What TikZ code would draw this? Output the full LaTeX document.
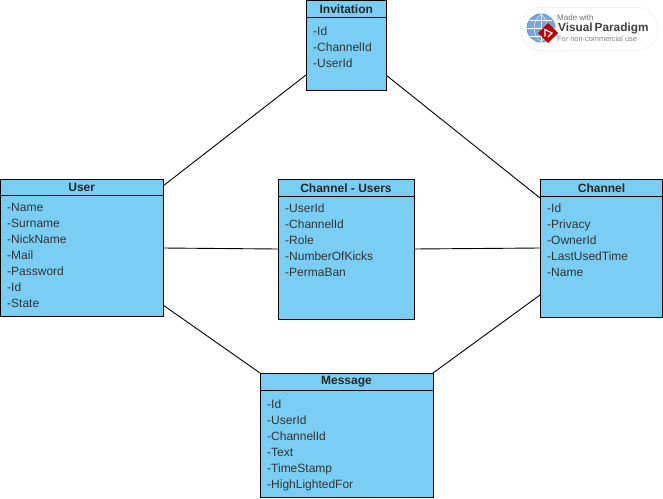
\documentclass[tikz,border=0pt]{standalone}
\usepackage{fontspec}
\setmainfont{Liberation Sans}
\tikzset{
 x=1pt,y=-1pt,
 classbox/.style={draw=black,line width=0.9pt,fill=boxblue,inner sep=0pt,outer sep=0pt,anchor=north west},
 classtitle/.style={font=\fontsize{12}{14}\selectfont\bfseries,text=black!85,inner sep=0pt,anchor=center},
 attrs/.style={font=\fontsize{12}{16}\selectfont,text=black!80,inner sep=0pt,anchor=north west,align=left},
 link/.style={draw=black,line width=0.9pt},
 divider/.style={draw=black,line width=0.9pt},
}
\definecolor{boxblue}{HTML}{7ACEF4}
\newcommand{\classrect}[7]{% name, x1,y1,x2,y2, header y, title
 \node[classbox,minimum width=#4-#2,minimum height=#5-#3] (#1) at (#2,#3) {};
 \draw[divider] (#2,#6) -- (#4,#6);
 \node[classtitle] (#1title) at ({(#2+#4)/2},{(#3+#6)/2+0.4}) {#7};
}
\begin{document}
\begin{tikzpicture}
\useasboundingbox (0,0) rectangle (663,498);
\fill[white] (0,0) rectangle (663,498);
% connector ends
\coordinate (iL) at (306,75);
\coordinate (iR) at (386,75);
\coordinate (uT) at (163,186);
\coordinate (uM) at (163,248);
\coordinate (uB) at (163,305);
\coordinate (cT) at (540,198);
\coordinate (cM) at (540,248);
\coordinate (cB) at (540,295);
\coordinate (cuL) at (278,249);
\coordinate (cuR) at (414,249);
\coordinate (mL) at (260,373);
\coordinate (mR) at (433,373);
\draw[link] (iL) -- (uT);
\draw[link] (iR) -- (cT);
\draw[link] (uM) -- (cuL);
\draw[link] (cuR) -- (cM);
\draw[link] (uB) -- (mL);
\draw[link] (cB) -- (mR);
% classes
\classrect{invitation}{306.5}{0.5}{386}{90}{17}{Invitation}
\classrect{user}{0.5}{179}{163}{316}{195.5}{User}
\classrect{cu}{278}{179}{414}{319}{196}{Channel - Users}
\classrect{channel}{540.5}{179}{662.5}{317}{196}{Channel}
\classrect{message}{260}{373}{433}{497}{390}{Message}
\node[attrs] (invitationattrs) at (313,26.5) {-Id\\-ChannelId\\-UserId};
\node[attrs] (userattrs) at (7,203.5) {-Name\\-Surname\\-NickName\\-Mail\\-Password\\-Id\\-State};
\node[attrs] (cuattrs) at (285,203.5) {-UserId\\-ChannelId\\-Role\\-NumberOfKicks\\-PermaBan};
\node[attrs] (channelattrs) at (547,203.5) {-Id\\-Privacy\\-OwnerId\\-LastUsedTime\\-Name};
\node[attrs] (messageattrs) at (267,399.5) {-Id\\-UserId\\-ChannelId\\-Text\\-TimeStamp\\-HighLightedFor};
% logo
\fill[black!5,rounded corners=21pt] (520,7) rectangle (658,51);
\fill[white,rounded corners=20pt] (521,8) rectangle (657,50);
\node[circle,fill=cyan!55!blue!55,draw=cyan!60!blue!70,line width=0.8pt,minimum size=28pt,inner sep=0pt] (globe) at (541,28) {};
\draw[white,line width=0.4pt] (527,28) -- (555,28) (541,14) -- (541,42) (530,20) -- (552,20) (530,36) -- (552,36);
\draw[white,line width=0.4pt] (541,14) .. controls (532,22) and (532,34) .. (541,42);
\draw[white,line width=0.4pt] (541,14) .. controls (550,22) and (550,34) .. (541,42);
\fill[red!75!black] (548,23) -- (558,33) -- (548,43) -- (538,33) -- cycle;
\draw[white,line width=1.2pt] (545,36.5) -- (545,29.5) -- (552,33) -- (548,37);
\node[font=\fontsize{8}{9}\selectfont,text=black!55,inner sep=0pt,anchor=west] (made) at (557,18) {Made with};
\node[font=\fontsize{11.8}{14}\selectfont\bfseries,text=black!75,inner sep=0pt,anchor=west] (vp) at (558,28.5) {Visual\,Paradigm};
\node[font=\fontsize{7.4}{9}\selectfont,text=black!50,inner sep=0pt,anchor=west] (nc) at (557,39) {For non-commercial use};
\end{tikzpicture}
\end{document}
